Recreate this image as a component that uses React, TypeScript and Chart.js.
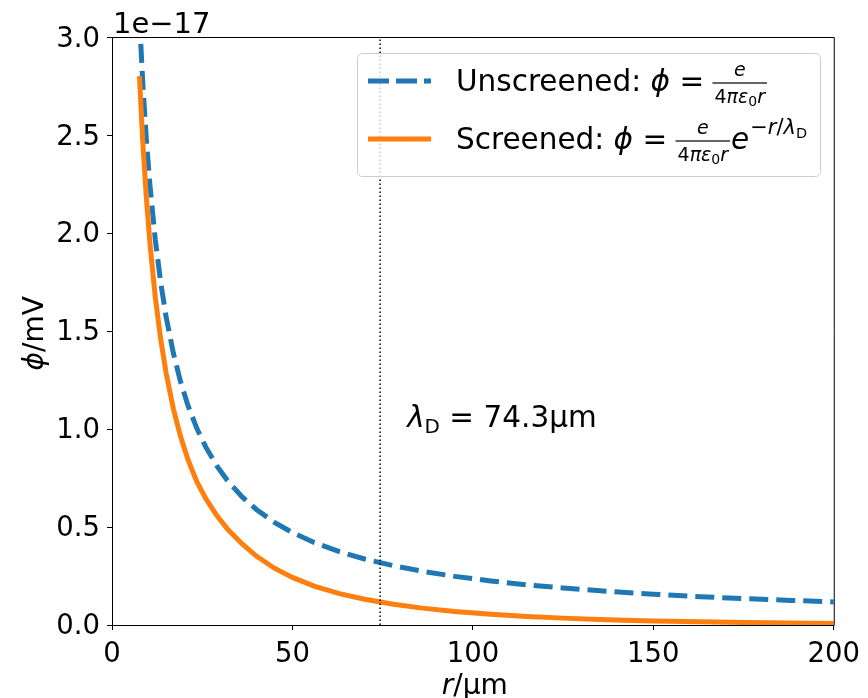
import React, { useEffect, useRef } from "react";
import { Chart, registerables } from "chart.js";

Chart.register(...registerables);

// ---- data ----
const R_UM = [7.6, 8.5, 9.5, 10.5, 12, 13.5, 15, 17, 19, 21, 23.5, 26, 29, 32, 36, 40, 45, 50, 56, 63, 70, 78, 86, 95, 105, 115, 125, 137, 150, 163, 176, 188, 200];
const PHI_UNSCREENED = [3.105, 2.776, 2.484, 2.248, 1.967, 1.748, 1.573, 1.388, 1.242, 1.124, 1.004, 0.908, 0.814, 0.7375, 0.6556, 0.59, 0.5244, 0.472, 0.4214, 0.3746, 0.3371, 0.3026, 0.2744, 0.2484, 0.2248, 0.2052, 0.1888, 0.1723, 0.1573, 0.1448, 0.1341, 0.1255, 0.118];
const PHI_SCREENED = [2.803, 2.476, 2.186, 1.951, 1.673, 1.458, 1.286, 1.104, 0.962, 0.847, 0.732, 0.645, 0.56, 0.49, 0.415, 0.352, 0.29, 0.243, 0.199, 0.1604, 0.1314, 0.1059, 0.0862, 0.0692, 0.0547, 0.0436, 0.0351, 0.0273, 0.0209, 0.0161, 0.01255, 0.01, 0.008];
const LAMBDA_D = 74.3;
const X_TICKS = [0, 50, 100, 150, 200];
const Y_TICKS = [0, 0.5, 1.0, 1.5, 2.0, 2.5, 3.0];
const X_MIN = 0;
const X_MAX = 200;
const Y_MIN = 0;
const Y_MAX = 3;
const OFFSET_TEXT = "1e\u221217";
const LAMBDA_TEXT = "74.3\u00b5m";

const BLUE = "#1f77b4";
const ORANGE = "#ff7f0e";
const FONT = '"DejaVu Sans"';

type Run = { t: string; size: number; it?: boolean; dy?: number };

function setFont(ctx: CanvasRenderingContext2D, r: Run) {
  ctx.font = `${r.it ? "italic " : ""}${r.size}px ${FONT}`;
}
function measureRuns(ctx: CanvasRenderingContext2D, runs: Run[]) {
  let w = 0;
  for (const r of runs) {
    setFont(ctx, r);
    w += ctx.measureText(r.t).width;
  }
  return w;
}
function drawRuns(ctx: CanvasRenderingContext2D, x: number, y: number, runs: Run[]) {
  for (const r of runs) {
    setFont(ctx, r);
    ctx.fillText(r.t, x, y + (r.dy || 0));
    x += ctx.measureText(r.t).width;
  }
  return x;
}
function drawFrac(ctx: CanvasRenderingContext2D, x: number, baseline: number, num: Run[], den: Run[]) {
  const wn = measureRuns(ctx, num);
  const wd = measureRuns(ctx, den);
  const w = Math.max(wn, wd) + 4;
  const barY = baseline - 8;
  ctx.fillRect(x, barY - 0.6, w, 1.2);
  drawRuns(ctx, x + (w - wn) / 2, barY - 7, num);
  drawRuns(ctx, x + (w - wd) / 2, barY + 20, den);
  return x + w;
}

const FS = 29.5; // legend / annotation font
const FF = 19; // fraction font
const NUM: Run[] = [{ t: "e", size: FF, it: true }];
const DEN: Run[] = [
  { t: "4", size: FF },
  { t: "\u03c0", size: FF, it: true },
  { t: "\u03b5", size: FF, it: true },
  { t: "0", size: 14, dy: 3 },
  { t: "r", size: FF, it: true },
];

const overlay = {
  id: "overlay",
  afterDatasetsDraw(chart: any) {
    const ctx: CanvasRenderingContext2D = chart.ctx;
    const a = chart.chartArea;
    ctx.save();
    // top and right spines
    ctx.strokeStyle = "#000";
    ctx.lineWidth = 1;
    ctx.setLineDash([]);
    ctx.beginPath();
    ctx.moveTo(a.left, a.top);
    ctx.lineTo(a.right + 0.5, a.top);
    ctx.moveTo(a.right + 0.5, a.top);
    ctx.lineTo(a.right + 0.5, a.bottom + 0.5);
    ctx.stroke();

    ctx.fillStyle = "#000";
    ctx.textBaseline = "alphabetic";
    ctx.textAlign = "left";

    // offset text
    ctx.font = `29px ${FONT}`;
    ctx.fillText(OFFSET_TEXT, a.left + 1, a.top - 4.5);

    // x-axis label
    const xl: Run[] = [
      { t: "r", size: 28, it: true },
      { t: "/\u00b5m", size: 28 },
    ];
    const wxl = measureRuns(ctx, xl);
    drawRuns(ctx, (a.left + a.right) / 2 - wxl / 2 + 2, 694, xl);

    // y-axis label
    const yl: Run[] = [
      { t: "\u03d5", size: 28, it: true },
      { t: "/mV", size: 28 },
    ];
    const wyl = measureRuns(ctx, yl);
    ctx.save();
    ctx.translate(43, (a.top + a.bottom) / 2 + 2);
    ctx.rotate(-Math.PI / 2);
    drawRuns(ctx, -wyl / 2, 0, yl);
    ctx.restore();

    // lambda annotation
    const xs = chart.scales.x;
    const lx = xs.getPixelForValue(LAMBDA_D) + 27;
    drawRuns(ctx, lx, 427, [
      { t: "\u03bb", size: FS, it: true },
      { t: "D", size: 20, dy: 6 },
      { t: " = " + LAMBDA_TEXT, size: FS },
    ]);

    // legend
    const bx = 357.5, by = 53.5, bw = 463, bh = 123, rad = 5;
    ctx.beginPath();
    ctx.moveTo(bx + rad, by);
    ctx.lineTo(bx + bw - rad, by);
    ctx.arcTo(bx + bw, by, bx + bw, by + rad, rad);
    ctx.lineTo(bx + bw, by + bh - rad);
    ctx.arcTo(bx + bw, by + bh, bx + bw - rad, by + bh, rad);
    ctx.lineTo(bx + rad, by + bh);
    ctx.arcTo(bx, by + bh, bx, by + bh - rad, rad);
    ctx.lineTo(bx, by + rad);
    ctx.arcTo(bx, by, bx + rad, by, rad);
    ctx.closePath();
    ctx.fillStyle = "rgba(255,255,255,0.8)";
    ctx.fill();
    ctx.strokeStyle = "#cccccc";
    ctx.lineWidth = 1;
    ctx.stroke();

    // handles
    ctx.lineWidth = 5;
    ctx.lineCap = "butt";
    ctx.strokeStyle = BLUE;
    ctx.setLineDash([21, 7]);
    ctx.beginPath();
    ctx.moveTo(368, 81);
    ctx.lineTo(431, 81);
    ctx.stroke();
    ctx.setLineDash([]);
    ctx.strokeStyle = ORANGE;
    ctx.beginPath();
    ctx.moveTo(368, 139);
    ctx.lineTo(431, 139);
    ctx.stroke();

    ctx.fillStyle = "#000";
    // row 1
    let x = drawRuns(ctx, 456, 91, [
      { t: "Unscreened: ", size: FS },
      { t: "\u03d5", size: FS, it: true },
      { t: " = ", size: FS },
    ]);
    drawFrac(ctx, x - 1, 91, NUM, DEN);
    // row 2
    x = drawRuns(ctx, 456, 149, [
      { t: "Screened: ", size: FS },
      { t: "\u03d5", size: FS, it: true },
      { t: " = ", size: FS },
    ]);
    x = drawFrac(ctx, x - 1, 149, NUM, DEN);
    x = drawRuns(ctx, x + 1, 149, [{ t: "e", size: FS, it: true }]);
    drawRuns(ctx, x + 1, 149, [
      { t: "\u2212", size: 21, dy: -15 },
      { t: "r", size: 21, it: true, dy: -15 },
      { t: "/", size: 21, dy: -15 },
      { t: "\u03bb", size: 21, it: true, dy: -15 },
      { t: "D", size: 14.5, dy: -11 },
    ]);
    ctx.restore();
  },
};

export default function App() {
  const ref = useRef<HTMLCanvasElement | null>(null);
  useEffect(() => {
    if (!ref.current) return;
    const unscreened = R_UM.map((r, i) => ({ x: r, y: PHI_UNSCREENED[i] }));
    const screened = R_UM.map((r, i) => ({ x: r, y: PHI_SCREENED[i] }));
    const vline = [
      { x: LAMBDA_D, y: Y_MIN },
      { x: LAMBDA_D, y: Y_MAX },
    ];
    const tickFont = { family: FONT, size: 27.5 };
    const chart = new Chart(ref.current, {
      type: "line",
      data: {
        datasets: [
          {
            label: "lambda",
            data: vline,
            borderColor: "#000",
            borderWidth: 1.5,
            borderDash: [1.5, 2.5],
            pointRadius: 0,
            clip: 0,
          } as any,
          {
            label: "Screened",
            data: screened,
            borderColor: ORANGE,
            borderWidth: 5,
            pointRadius: 0,
            tension: 0,
            clip: 0,
          },
          {
            label: "Unscreened",
            data: unscreened,
            borderColor: BLUE,
            borderWidth: 5,
            borderDash: [19, 8],
            pointRadius: 0,
            tension: 0,
            clip: 0,
          },
        ],
      },
      options: {
        animation: false,
        responsive: false,
        devicePixelRatio: 1,
        layout: { padding: { top: 37.5, right: 32, left: 0, bottom: 0 } },
        plugins: { legend: { display: false }, tooltip: { enabled: false } },
        events: [],
        scales: {
          x: {
            type: "linear",
            min: X_MIN,
            max: X_MAX,
            afterBuildTicks: (s: any) => {
              s.ticks = X_TICKS.map((v) => ({ value: v }));
            },
            afterFit: (s: any) => {
              s.height = 73;
            },
            ticks: {
              font: tickFont,
              color: "#000",
              padding: 8,
              maxRotation: 0,
              autoSkip: false,
              callback: (v: any) => String(v),
            },
            grid: {
              display: true,
              drawOnChartArea: false,
              drawTicks: true,
              tickLength: 5,
              tickColor: "#000",
              color: "#000",
            },
            border: { display: true, color: "#000", width: 1 },
          },
          y: {
            type: "linear",
            min: Y_MIN,
            max: Y_MAX,
            afterBuildTicks: (s: any) => {
              s.ticks = Y_TICKS.map((v) => ({ value: v }));
            },
            afterFit: (s: any) => {
              s.width = 112;
            },
            ticks: {
              font: tickFont,
              color: "#000",
              padding: 7,
              labelOffset: 2,
              autoSkip: false,
              callback: (v: any) => Number(v).toFixed(1),
            },
            grid: {
              display: true,
              drawOnChartArea: false,
              drawTicks: true,
              tickLength: 5,
              tickColor: "#000",
              color: "#000",
            },
            border: { display: true, color: "#000", width: 1 },
          },
        },
      },
      plugins: [overlay],
    });
    return () => chart.destroy();
  }, []);
  return (
    <div style={{ position: "fixed", left: 0, top: 0, width: 868, height: 698, background: "#fff" }}>
      <canvas ref={ref} width={868} height={698} style={{ display: "block", width: 868, height: 698 }} />
    </div>
  );
}
